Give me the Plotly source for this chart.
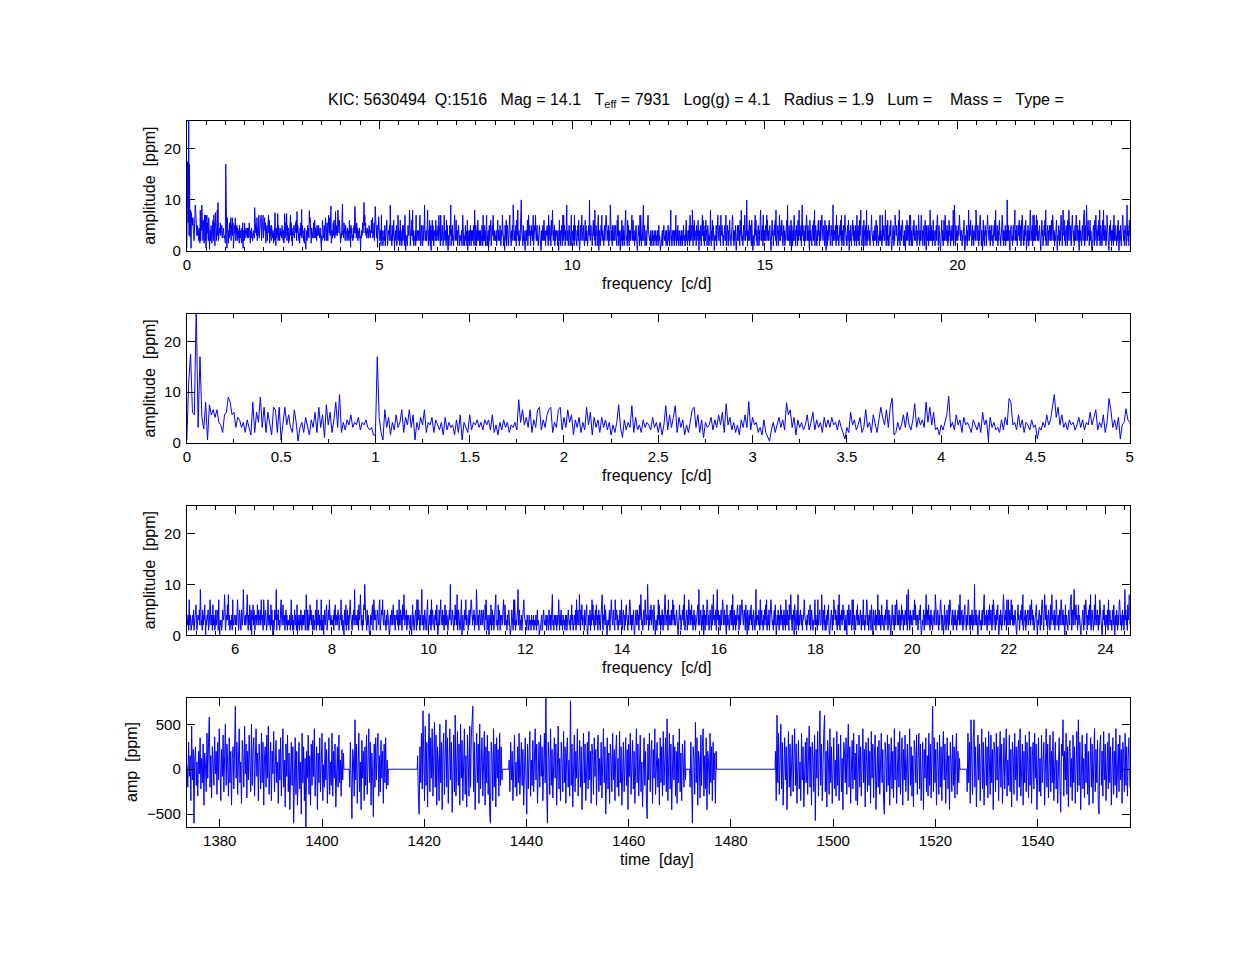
import numpy as np
import plotly.graph_objects as go

# ---------------- data ----------------
title_text = ("KIC: 5630494\u00a0\u00a0Q:1516\u00a0\u00a0\u00a0Mag = 14.1\u00a0\u00a0\u00a0T<sub>eff</sub> = 7931"
              "\u00a0\u00a0\u00a0Log(g) = 4.1\u00a0\u00a0\u00a0Radius = 1.9\u00a0\u00a0\u00a0Lum =\u00a0\u00a0\u00a0\u00a0Mass =\u00a0\u00a0\u00a0Type =")

# amplitude spectrum 0 - 5 c/d, step 0.01 c/d  [ppm]
freq_low_start = 0.0
freq_low_step = 0.01
amp_low = [
    0.5, 12, 17.5, 6, 5.5, 27, 3, 17, 5, 2.7,
    8, 0.5, 7.5, 5.5, 6.5, 5, 6.5, 4, 3.5, 2,
    5.5, 6, 9, 8, 5.5, 6, 3, 5, 4.5, 3,
    4, 2, 4.5, 3, 1.5, 8, 2, 6, 4, 9,
    3, 7, 2, 6, 4, 1.5, 7, 6.5, 2, 7,
    0.5, 4, 7, 3.5, 5.5, 3, 2, 6.5, 4, 0.3,
    3, 4, 2, 5, 3.5, 1.5, 4.5, 3, 6, 2,
    7, 3, 5.5, 1, 7.5, 3.5, 6, 2, 4.5, 8,
    3, 9.5, 2, 4, 2.5, 4.5, 3.5, 5.5, 3, 4,
    3.5, 5, 2.5, 4, 3.5, 4.5, 3, 2.5, 3, 1.5,
    1.5, 17, 5, 2, 0.5, 6.5, 3, 5, 1.5, 4,
    2.5, 5.5, 3, 4, 6.5, 2, 5, 3.5, 6.5, 3,
    5.5, 0.5, 4, 2.5, 5, 3.5, 6.5, 2, 4, 3.5,
    5, 2, 4.5, 3.5, 2.5, 4, 1.5, 5, 2.5, 4,
    3, 3.5, 1.5, 4.5, 2, 5.5, 0.5, 4, 3, 2,
    5.5, 2.5, 4, 3.5, 4.5, 3, 4, 2.5, 4.5, 3.5,
    4.5, 2.5, 5.5, 2, 3.5, 1.5, 4, 2.5, 4.5, 3,
    4, 2, 3.5, 3, 4, 2.5, 8.5, 4, 6.5, 3.5,
    5, 3, 6.5, 2, 4.5, 3, 6.5, 7, 2.5, 4.5,
    3, 5.5, 6.5, 7, 2, 4, 3, 6.5, 7, 2.5,
    5, 3, 6.5, 4, 5.5, 1.5, 4.5, 3, 5, 2,
    4, 2.5, 7, 3.5, 6, 1.5, 5, 3, 4.5, 2,
    5, 3, 4.5, 2.5, 4, 1.5, 3.5, 2, 4, 7.5,
    3, 1, 4.5, 2.5, 4, 3, 7.3, 2, 5, 2.5,
    3.5, 2, 4.5, 3, 4, 3.5, 2.5, 5, 3, 4,
    2, 4, 1.5, 3.5, 7.3, 2.5, 5.5, 3, 5, 7.3,
    2, 5, 3, 4.5, 1.5, 3.5, 2, 4, 6.5, 7,
    3, 5.5, 2, 4.5, 1, 4, 3, 3.5, 5, 2.5,
    4.5, 3, 5.5, 3.5, 6, 2, 7.7, 3.5, 5, 2.5,
    4, 2, 3.5, 1.5, 4.5, 3, 5.5, 3, 8.1, 2.5,
    5, 3.5, 4, 2, 3, 1.5, 4.5, 2, 1, 0.3,
    2.5, 4, 2, 3.5, 5, 3, 4.5, 2.5, 7.9, 5.5,
    6.5, 3, 5, 1.5, 4.5, 3, 4, 2.5, 3.5, 5.5,
    2.5, 4, 6, 2.5, 4.5, 3, 4, 2, 5, 3,
    4.5, 3, 5, 3.5, 4, 2.5, 4.5, 3, 2, 0.7,
    3, 2, 6, 3.5, 4.5, 2.5, 3.5, 5, 2, 3,
    6.5, 3, 4, 2, 5.5, 3.5, 2, 4.5, 7, 5,
    3.5, 6.5, 3, 7, 8.8, 1.5, 2, 4, 2.5, 3.5,
    5.5, 3, 6, 3.5, 2.5, 4.5, 7.7, 3, 5, 3.5,
    4.5, 3, 8, 4, 7, 3.5, 6, 2.5, 3, 1.5,
    3.5, 2.5, 4, 5.5, 9.2, 3, 4, 2.5, 5.5, 3.5,
    4.5, 2, 5, 3.5, 4, 3, 2, 4.5, 3.5, 2.5,
    4, 2, 6, 3.5, 4.5, 0.7, 5, 3, 4, 2.5,
    3, 2, 4.5, 2.5, 5, 3.5, 8.7, 8, 3.5, 4,
    2.5, 5.5, 3, 4.5, 2, 4, 3.5, 2.5, 4.5, 3,
    3.5, 0.7, 3, 2.5, 4, 3, 5.5, 3.5, 4.5, 7,
    9.5, 5, 7, 3.5, 5.5, 3, 4, 2.5, 4.5, 3.5,
    4, 2.5, 3.5, 5, 3, 4.5, 2.5, 4, 3.5, 6,
    3.5, 5, 6.5, 2.5, 4, 3, 5.5, 2, 4, 8.7,
    6.5, 3, 4.5, 2.5, 5, 0.7, 3.5, 4, 6.7, 4.5,
    4,
]

# amplitude spectrum 5.01 - 24.50 c/d, step 0.01 c/d; one hex digit per value [ppm]
freq_high_start = 5.01
freq_high_step = 0.01
amp_high_hex = (
    "2341724312" "3425132463" "1243352942" "3152436203" "2435123752" "4316243125" "2354172032" "3125434861" "2436382413" "3241723342"
    "3425741253" "2153249432" "4235831426" "3150436253" "1434263524" "3527342173" "2453124732" "4316252031" "2543914352" "3125742463"
    "2413524132" "3241372413" "1352431604" "2314253142" "4235128315" "3142635241" "2413253172" "3524132713" "1402524361" "2353742432"
    "3241536243" "2453124372" "4132053261" "3524136743" "2143529342" "3425163482" "2413265a43" "3152432014" "2436147353" "4125342671"
    "2354732452" "3142543201" "4235246324" "1343524172" "3524163482" "2435142343" "3142036241" "2453172735" "3142593241" "2534136713"
    "3425172543" "2143526301" "3524743252" "4136252431" "2453a42353" "3142635281" "2534126702" "4213537243" "3145243762" "2435143294"
    "3241543252" "2453216372" "1342034261" "3524132482" "2316254143" "4235742632" "3142453201" "2534172741" "3245924513" "2413357432"
    "2314231423" "3142324132" "2413523201" "1324132532" "3241423152" "2413582314" "3243142372" "1425231432" "3142413253" "2314362413"
    "3425172453" "2841536243" "3152436102" "4235142736" "2413526341" "3524132482" "1436254203" "3245132742" "2534173452" "4132453271"
    "2453142563" "3142576241" "4235102352" "3524163482" "2314526742" "43a5142536" "2453162403" "3142736241" "4253142685" "2435172342"
    "3524736242" "2453102563" "4132536281" "3245142753" "2536241352" "4132456293" "2453142605" "3142576241" "2534162483" "4235149352"
    "2413524762" "3524106243" "2145326281" "3524142563" "4136243752" "2453162405" "3142536241" "2534139243" "4253172352" "3142536271"
    "3425132753" "2314526302" "4253142635" "2413524172" "3524163482" "2143506341" "3528142453" "2413357432" "3142453261" "2534132472"
    "4231724352" "2384153261" "3142536201" "2453142753" "3524136282" "1435246351" "3142053263" "2534172731" "4213536243" "2453142372"
    "3142576241" "2453162405" "4235142382" "3524136243" "2143526741" "3524102563" "2413624752" "4253142635" "3142453281" "2934153242"
    "2534736243" "4132536201" "3245142483" "2536241352" "4132452843" "2453142675" "3142036241" "2534162753" "4235142352" "3142536283"
    "2453142563" "3142576241" "42351423a2" "3524103452" "2314526782" "4325142536" "2453162753" "3142536201" "4253142685" "2435172372"
    "3524736242" "2453102563" "4132536281" "3245142453" "2536247352" "4132456203" "2453142675" "3148536241" "2534162483" "4235142752"
    "2413524762" "3524106243" "2145326781" "3524942563" "4136243102" "2453162475" "3142536281" "2534136283" "4253142752" "3102536241"
    "3425172453" "2314526302" "4253142675" "2413524139" "3524163482"
)

# light curve segments, values in units of 10 ppm, 0.15 d cadence, start times [day]
cadence = 0.15
seg_start = [1373.6, 1405.4, 1418.7, 1436.6, 1472.0, 1488.7, 1526.2]
flux_a = [
    5, -20, 30, -8, 15, -35, 48, -12, 22, -60, 10, 25, -18, 8, -30, 20, -5, 35, -22, 12,
    -15, 28, -40, 18, 5, -25, 40, -10, 30, 58, -20, 15, -32, 25, 8, -18, 36, -5, 20, -28,
    30, -12, 45, 10, -35, 22, -8, 38, -25, 15, 50, -18, 28, 5, -30, 35, -15, 20, -40, 12,
    25, -22, 40, 70, -10, 30, -28, 18, 45, -15, 8, -38, 32, 15, -20, 48, -5, 28, -32, 20,
    -12, 38, 10, -25, 50, -18, 22, 35, -30, 12, 45, -8, 18, -35, 28, 5, -22, 40, -15, 30,
    -40, 15, 25, -20, 38, -10, 48, -28, 12, 30, -35, 20, -5, 42, -25, 18, 32, -15, 8, -38,
    22, -12, 35, -30, 15, 45, -20, 10, -42, 28, -8, 38, -25, 18, -45, 12, 30, -18, 25, -60,
    10, 35, -28, 20, -40, 15, 30, -22, 8, -50, 40, -15, 25, -35, 12, -65, 20, -10, 38, -28,
    15, -40, 28, -18, 32, -8, 45, -30, 12, 25, -45, 18, -15, 35, -25, 10, 40, -35, 5, -20,
    30, -12, 22, -38, 15, 35, -28, 8, -18, 40, -30, 20, -10, 28, -42, 15, 25, -20, 38, -15,
    10, -30, 22, -12, 18,
]
flux_b = [
    -20, 30, -15, -55, 22, 10, -30, 55, -12, 28, -38, 15, 40, -25, 8, -45, 32, -10, 20, -35,
    25, -18, 38, -28, 12, 45, -15, 30, -40, 18, -8, -53, 28, -20, 35, -12, 22, 40, -30, 15,
    -25, 32, -10, 20, -38, 28, -15, 35, -22, 10, -18,
]
flux_c = [
    15, -30, -50, 25, -15, 40, -22, 65, 10, -35, 48, -18, 30, -42, 20, 62, -25, 35, -10, 45,
    -30, 18, 52, -20, 38, -40, 25, 8, -35, 50, -15, 30, -45, 22, 40, -28, 12, 55, -20, 35,
    -38, 25, 45, -12, 30, -48, 18, 38, -25, 60, -30, 20, 42, -18, 28, -40, 50, -10, 32, -35,
    22, 45, -28, 15, -42, 38, 10, -30, 48, -20, 35, 55, 70, -25, 30, -45, 20, 40, -15, 28,
    -38, 50, -22, 18, 35, -30, 12, 42, -40, 25, -15, 38, -28, 20, -50, -60, 30, 15, -35, 45,
    -20, 28, -42, 35, -10, 22, -30, 40, -18, 25, -12,
]
flux_d = [
    10, -25, 30, -12, 20, -35, 15, 38, -20, 8, -30, 25, -15, 40, -28, 12, 30, -18, 22, -40,
    18, 35, -10, -50, 28, -22, 15, 42, -30, 10, -18, 32, -25, 20, 45, -12, 28, -38, 15, 30,
    -20, 38, -8, 25, -35, 18, 40, -15, 82, -25, -60, 30, 12, -28, 45, -18, 22, -32, 15, 35,
    -10, 28, -40, 20, 48, -22, 12, -35, 30, 8, -25, 42, -15, 25, -38, 18, 35, -20, 10, -30,
    76, -18, 28, -42, 15, 38, -25, 20, -10, 45, -30, 12, 32, -20, 25, -45, 18, 40, -15, 28,
    -35, 10, 30, -22, 42, -12, 20, -38, 28, 15, -28, 35, -8, 22, -40, 18, 38, -25, 12, -18,
    30, -32, 20, 45, -15, 25, -50, 12, 35, -22, 18, -38, 28, 10, -25, 40, -12, 22, -35, 15,
    38, -20, 12, -30, 42, -15, 25, -40, 18, 30, -25, 10, 35, -18, 22, -45, 28, -8, 40, -28,
    15, 32, -22, 20, -38, 12, 45, -15, 28, -30, 18, 38, -25, 8, -42, 25, 35, -18, 20, -32,
    -55, 28, -12, 40, -25, 15, 32, -38, 22, -10, 45, -28, 18, 30, -20, 12, -40, 35, -15, 25,
    -30, 42, -18, 20, 35, -25, 56, -35, 12, 40, -22, 28, -45, 15, 38, -12, 25, -30, 20, -38,
    30, -15, 45, -25, 18, -35, 28, 10, -20, 32, -12,
]
flux_e = [
    -20, 30, -35, -60, 25, 12, -28, 52, -15, 35, -40, 20, 8, -32, 38, -18, 25, 45, -30, 15,
    -22, 35, -45, 20, 10, -28, 40, -15, 25, -35, 30, -12, 18, -38, 20,
]
flux_f = [
    20, -35, 60, -15, 40, -28, 12, 50, -22, 30, -40, 18, 35, -12, 25, -45, 15, 42, -20, 28,
    -30, 10, 38, -25, 20, 45, -18, 28, -38, 15, 32, -22, 8, -35, 40, -12, 25, -42, 18, 30,
    -15, 35, -28, 12, 48, -20, 25, -40, 30, 10, -25, 38, -57, 22, -10, 42, -30, 18, 65, -18,
    28, -35, 15, 40, 60, -25, 20, -42, 32, 12, -28, 45, -15, 25, -38, 18, 35, -22, 10, -30,
    42, -18, 28, -35, 15, 38, -25, 12, -45, 30, 20, -15, 35, -28, 18, 50, -20, 25, -38, 10,
    32, -22, 40, -12, 18, -35, 28, -40, 15, 38, -20, 25, -30, 12, 45, -15, 22, -42, 30, 8,
    -25, 35, -18, 20, -38, 42, -10, 28, -32, 15, 38, -45, 18, 25, -20, 32, -28, 12, 40, -15,
    22, -35, -50, 30, 15, -25, 38, -18, 28, -40, 12, 35, -22, 20, -32, 45, -12, 25, -38, 18,
    30, -20, 42, -28, 15, 35, -40, 22, -12, 38, -25, 18, 28, -35, 10, 45, -18, 25, -30, 15,
    -42, 32, 20, -15, 38, -28, 12, 40, -22, 28, -35, 18, 30, -45, 22, -10, 35, -25, 15, -30,
    40, -18, 28, -32, 20, 70, -25, 35, -15, 22, -40, 30, 12, -28, 38, -20, 25, -35, 18, 42,
    -12, 28, -38, 20, 35, -22, 15, -45, 30, 10, -25, 38, -18, 25, -32, 15, 40, -28, 20, -15,
    12,
]
flux_g = [
    -25, 40, -15, 30, -38, 55, 12, -28, 35, 55, -20, 25, -42, 18, 38, -12, 28, -35, 15, 45,
    -22, 30, -40, 12, 35, -18, 25, -32, 42, 8, -28, 38, -15, 22, -45, 30, 18, -25, 40, -12,
    25, -35, 15, 42, -20, 28, -38, 12, 35, -22, 18, 45, -30, 10, -18, 38, -25, 22, -42, 30,
    15, -28, 40, -12, 25, -35, 18, 32, -20, 45, -30, 12, 28, -40, 20, -15, 38, -25, 30, 8,
    -32, 42, -18, 25, -38, 15, 30, -22, 40, -10, 28, -45, 18, 35, -25, 12, -30, 38, -15, 22,
    30, -40, 15, 45, -20, 28, -32, 12, 38, -25, 20, -15, 42, -35, 18, 30, -22, 10, -38, 25,
    35, -18, -48, 28, 15, 55, -30, 20, -12, 40, -28, 25, -42, 18, 32, -20, 12, -35, 38, -15,
    25, -38, 20, 42, -25, 55, -18, 30, -45, 15, 38, -22, 12, -32, 28, -15, 40, -28, 20, -40,
    15, 35, -20, 28, -38, 12, 45, -25, 22, -15, 32, -42, -50, 25, 38, -18, 20, -30, 42, -12,
    28, -35, 18, 30, -22, 40, -15, 25, -40, 12, 35, -28, 20, -18, 45, -32, 15, 28, -25, 38,
    -12, 22, -38, 30, 15, -25, 40, -18, 25, -30, 12, 35, -20,
]
segments = [flux_a, flux_b, flux_c, flux_d, flux_e, flux_f, flux_g]

# ---------------- build series ----------------
amp_high = [int(c, 16) for c in amp_high_hex]
f_low = freq_low_start + freq_low_step * np.arange(len(amp_low))
f_high = freq_high_start + freq_high_step * np.arange(len(amp_high))
freq = np.concatenate([f_low, f_high])
amp = np.concatenate([np.array(amp_low, float), np.array(amp_high, float)])

t_list, v_list = [], []
for k, (s, vals) in enumerate(zip(seg_start, segments)):
    t = s + cadence * np.arange(len(vals))
    if k > 0:
        t_list.append(s - cadence / 2)
        v_list.append(0.0)
    t_list.extend(t.tolist())
    v_list.extend([10.0 * v for v in vals])
    if k < len(segments) - 1:
        t_list.append(t[-1] + cadence / 2)
        v_list.append(0.0)

# ---------------- figure ----------------
W, H = 1246, 963
# small correction for the page-capture scaling
SX, CX = 0.99364, 4.19
SY, CY = 0.99293, -1.15


def tx(p):
    return (p - CX) / SX


def ty(p):
    return (p - CY) / SY


X0, X1 = tx(187), tx(1130)
panels_px = [(120, 250), (313, 442), (505, 635), (698, 827)]
FONT = "Liberation Sans, Arial, Helvetica, sans-serif"


def ydom(top, bot):
    return [1 - ty(bot) / H, 1 - ty(top) / H]


xdom = [X0 / W, X1 / W]
blue = "#0000ff"

fig = go.Figure()
for ax in ["", "2", "3"]:
    fig.add_trace(go.Scatter(x=freq, y=amp, mode="lines", line=dict(color=blue, width=1),
                             xaxis="x" + ax, yaxis="y" + ax, showlegend=False, hoverinfo="skip"))
fig.add_trace(go.Scatter(x=t_list, y=v_list, mode="lines", line=dict(color=blue, width=1),
                         xaxis="x4", yaxis="y4", showlegend=False, hoverinfo="skip"))

common = dict(showline=True, linecolor="black", linewidth=1, mirror="ticks",
              ticks="inside", ticklen=8, tickwidth=1, tickcolor="black",
              showgrid=False, zeroline=False,
              tickfont=dict(family=FONT, size=15, color="black"))

xcfg = [
    dict(range=[0, 24.47], tick0=0, dtick=5, minor=dict(dtick=0.5)),
    dict(range=[0, 5], tick0=0, dtick=0.5, minor=dict(dtick=0.25)),
    dict(range=[5, 24.5], tick0=6, dtick=2, minor=dict(dtick=0.4)),
    dict(range=[1373.55, 1558.0], tick0=1380, dtick=20),
]
ycfg = [
    dict(range=[0, 25.5], tick0=0, dtick=10),
    dict(range=[0, 25.5], tick0=0, dtick=10),
    dict(range=[0, 25.5], tick0=0, dtick=10),
    dict(range=[-644, 789], tick0=-500, dtick=500),
]

layout = dict(width=W, height=H, margin=dict(l=0, r=0, t=0, b=0),
              paper_bgcolor="white", plot_bgcolor="white", showlegend=False,
              font=dict(family=FONT, size=15, color="black"))
for i in range(4):
    n = "" if i == 0 else str(i + 1)
    xc = dict(common, domain=xdom, anchor="y" + n, ticklabelstandoff=0, **xcfg[i])
    if "minor" in xc:
        xc["minor"] = dict(xc["minor"], ticks="inside", ticklen=4, tickcolor="black", showgrid=False)
    layout["xaxis" + n] = xc
    layout["yaxis" + n] = dict(common, domain=ydom(*panels_px[i]), anchor="x" + n,
                               ticklabelstandoff=2, **ycfg[i])

fig.update_layout(**layout)

ann = []
ann.append(dict(text=title_text, x=tx(696) / W, y=1 - ty(99) / H, xref="paper", yref="paper",
                showarrow=False, xanchor="center", yanchor="middle",
                font=dict(family=FONT, size=16, color="black")))
xlab_y = [283, 475, 667, 859]
xlab_t = ["frequency\u00a0\u00a0[c/d]"] * 3 + ["time\u00a0\u00a0[day]"]
for yy, tt in zip(xlab_y, xlab_t):
    ann.append(dict(text=tt, x=tx(657) / W, y=1 - ty(yy) / H, xref="paper", yref="paper",
                    showarrow=False, xanchor="center", yanchor="middle",
                    font=dict(family=FONT, size=16, color="black")))
ylab = [("amplitude\u00a0\u00a0[ppm]", 150, 185), ("amplitude\u00a0\u00a0[ppm]", 150, 378),
        ("amplitude\u00a0\u00a0[ppm]", 150, 570), ("amp\u00a0\u00a0[ppm]", 131, 762)]
for tt, xx, yy in ylab:
    ann.append(dict(text=tt, x=tx(xx) / W, y=1 - ty(yy) / H, xref="paper", yref="paper",
                    showarrow=False, xanchor="center", yanchor="middle", textangle=-90,
                    font=dict(family=FONT, size=16, color="black")))
fig.update_layout(annotations=ann)

fig.write_html("out.html", config={"displayModeBar": False},
               post_script="document.body.style.margin='0';document.body.style.overflow='hidden';")
